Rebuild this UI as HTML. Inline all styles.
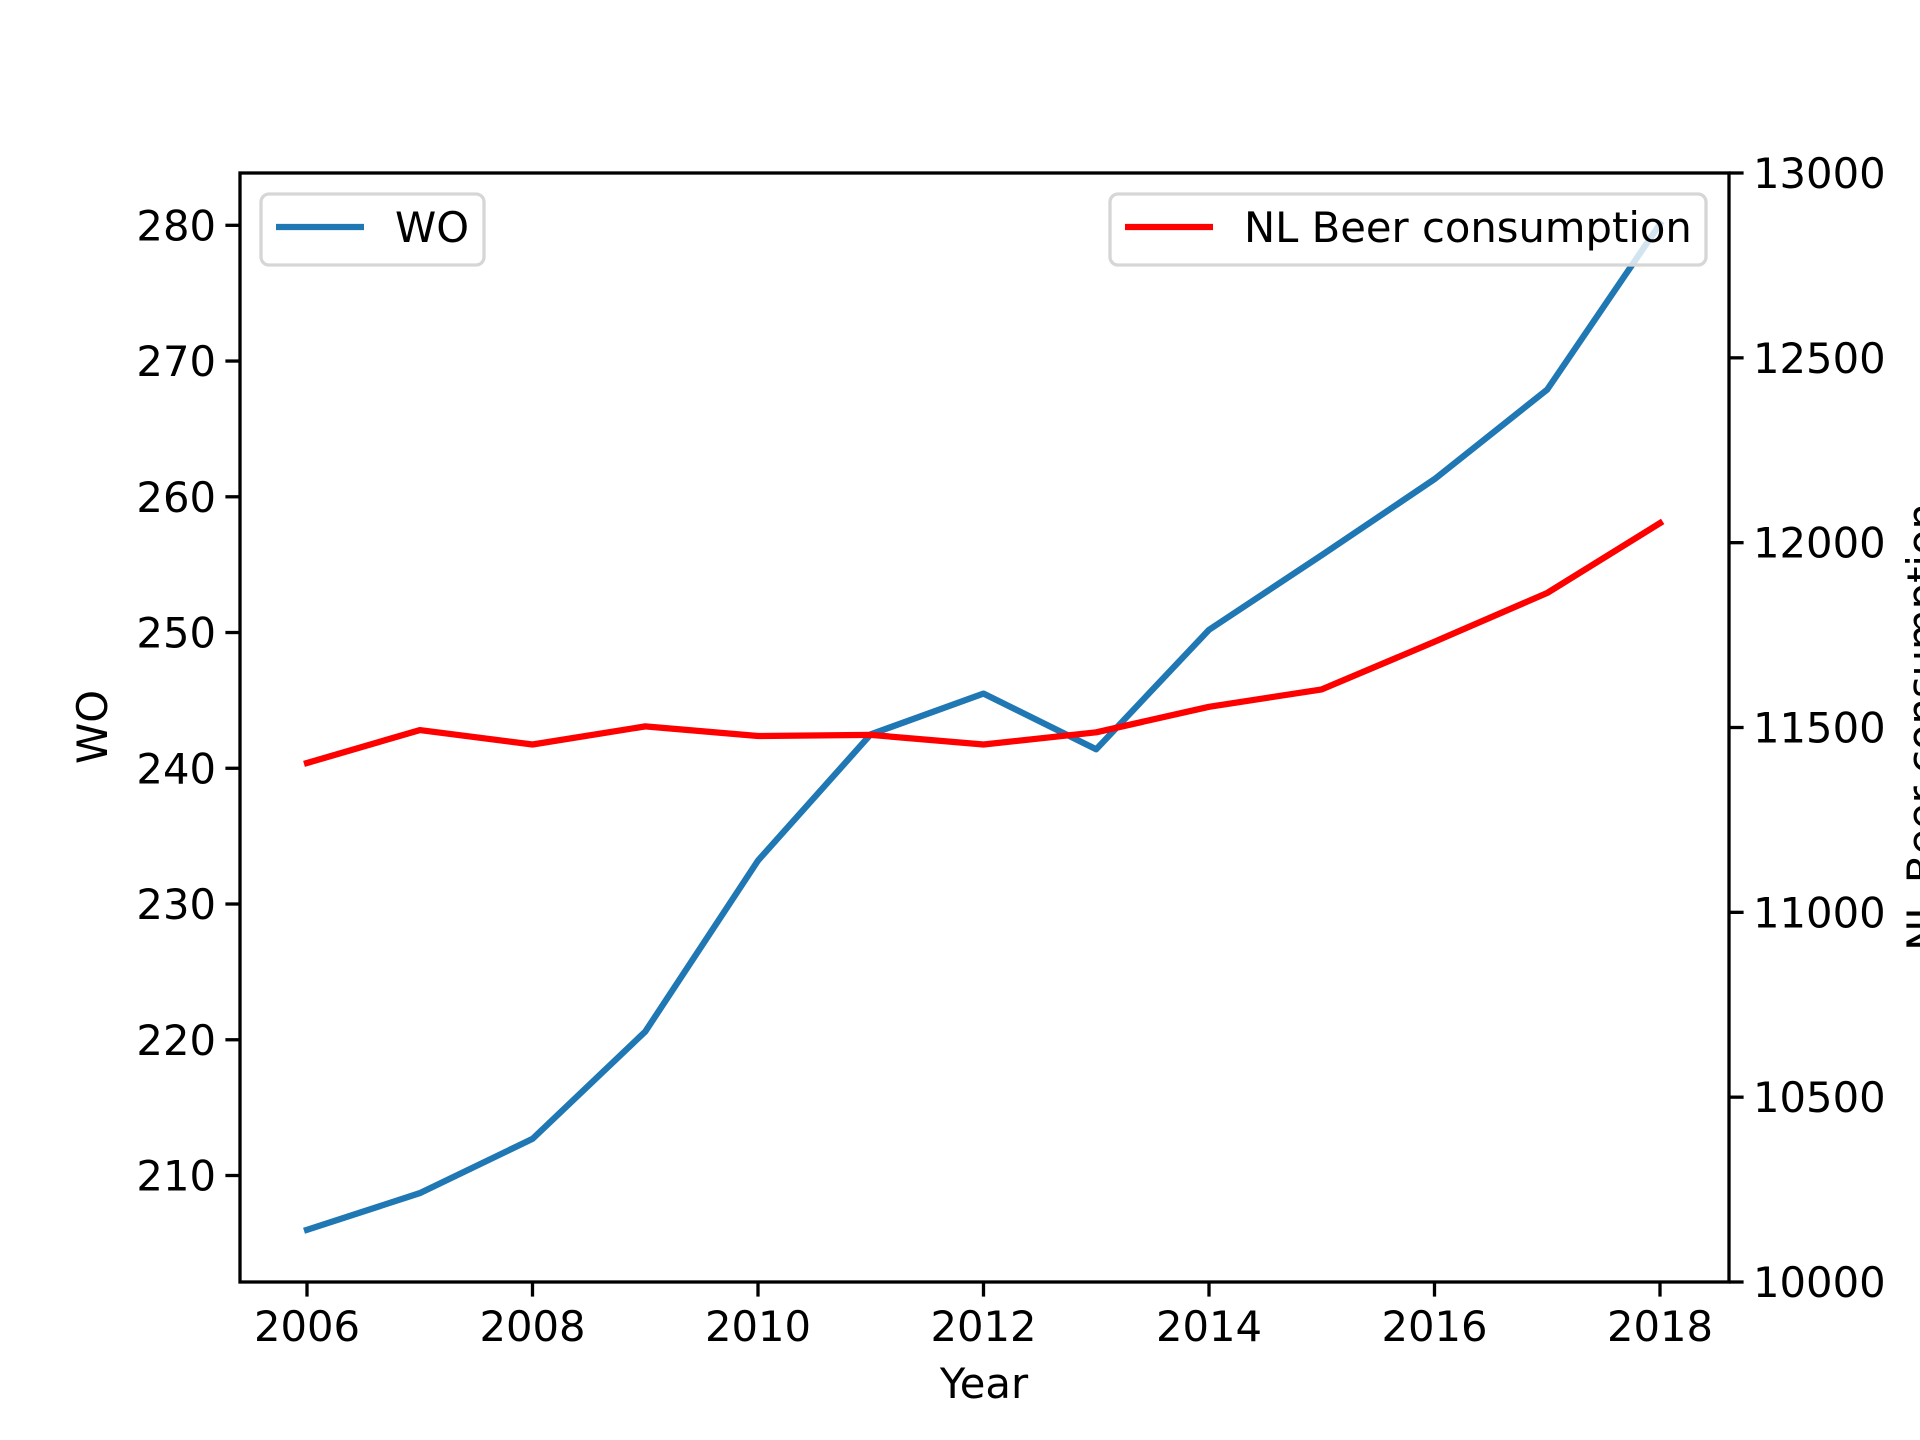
<!DOCTYPE html>
<html><head><meta charset="utf-8"><style>html,body{margin:0;padding:0;background:#fff}svg{display:block}text{font-family:"DejaVu Sans","Liberation Sans",sans-serif;font-size:41.7px;fill:#000}</style></head>
<body>
<svg id="chart" width="1920" height="1440" viewBox="0 0 1920 1440" xmlns="http://www.w3.org/2000/svg">
<rect width="1920" height="1440" fill="#fff"/>
<g id="g"></g>
</svg>
<script>
const years=[2006,2007,2008,2009,2010,2011,2012,2013,2014,2015,2016,2017,2018];
const woValues=[206.0,208.7,212.7,220.6,233.2,242.5,245.5,241.4,250.2,255.7,261.3,267.9,280.1];
const beerValues=[11404,11493,11454,11503,11477,11480,11454,11487,11556,11603,11732,11864,12053];
const xTicks=[2006,2008,2010,2012,2014,2016,2018];
const leftTicks=[210,220,230,240,250,260,270,280];
const rightTicks=[10000,10500,11000,11500,12000,12500,13000];

const L=240,R=1729,T=173,B=1282;
const xs=v=>307+(v-2006)*(1660-307)/12;
const yl=v=>1175.5-(v-210)*(1175.5-225.3)/70;
const yr=v=>B-(v-10000)*(B-T)/3000;
const g=document.getElementById('g');
const NS='http://www.w3.org/2000/svg';
function mk(tag,attrs,txt){const e=document.createElementNS(NS,tag);for(const k in attrs)e.setAttribute(k,attrs[k]);if(txt!==undefined)e.textContent=txt;g.appendChild(e);return e;}

let e;
e=mk('polyline',{points:years.map((y,i)=>xs(y)+','+yl(woValues[i])).join(' '),fill:'none',stroke:'#1f77b4','stroke-width':6.25,'stroke-linejoin':'round','stroke-linecap':'square'});


e=mk('polyline',{points:years.map((y,i)=>xs(y)+','+yr(beerValues[i])).join(' '),fill:'none',stroke:'#ff0000','stroke-width':6.25,'stroke-linejoin':'round','stroke-linecap':'square'});



e=mk('rect',{x:L,y:T,width:R-L,height:B-T,fill:'none',stroke:'#000','stroke-width':3.3});



xTicks.forEach(v=>{const x=xs(v);
 e=mk('line',{x1:x,x2:x,y1:B,y2:B+14.6,stroke:'#000','stroke-width':3.3});
 
 
 e=mk('text',{x:x,y:1341,'text-anchor':'middle'},v);
 
 
});
leftTicks.forEach(v=>{const y=yl(v);
 e=mk('line',{x1:L-14.6,x2:L,y1:y,y2:y,stroke:'#000','stroke-width':3.3});
 
 
 e=mk('text',{x:L-24,y:y+15,'text-anchor':'end'},v);
 
 
});
rightTicks.forEach(v=>{const y=yr(v);
 e=mk('line',{x1:R,x2:R+14.6,y1:y,y2:y,stroke:'#000','stroke-width':3.3});
 
 
 e=mk('text',{x:R+24,y:y+15,'text-anchor':'start'},v);
 
 
});

e=mk('text',{x:984,y:1398,'text-anchor':'middle'},'Year');


e=mk('text',{x:0,y:0,'text-anchor':'middle',transform:'translate(107,727) rotate(-90)'},'WO');


e=mk('text',{x:0,y:0,'text-anchor':'middle',transform:'translate(1937,727) rotate(-90)'},'NL Beer consumption');



// legends
e=mk('rect',{x:261,y:194,width:223,height:71,rx:8,fill:'#fff','fill-opacity':0.8,stroke:'#d6d6d6','stroke-width':3.3});


e=mk('line',{x1:276,x2:364,y1:227,y2:227,stroke:'#1f77b4','stroke-width':6.25});


e=mk('text',{x:395,y:242},'WO');



e=mk('rect',{x:1110,y:194,width:596,height:71,rx:8,fill:'#fff','fill-opacity':0.8,stroke:'#d6d6d6','stroke-width':3.3});


e=mk('line',{x1:1125,x2:1213,y1:227,y2:227,stroke:'#ff0000','stroke-width':6.25});


e=mk('text',{x:1244,y:242},'NL Beer consumption');


</script>
</body></html>
